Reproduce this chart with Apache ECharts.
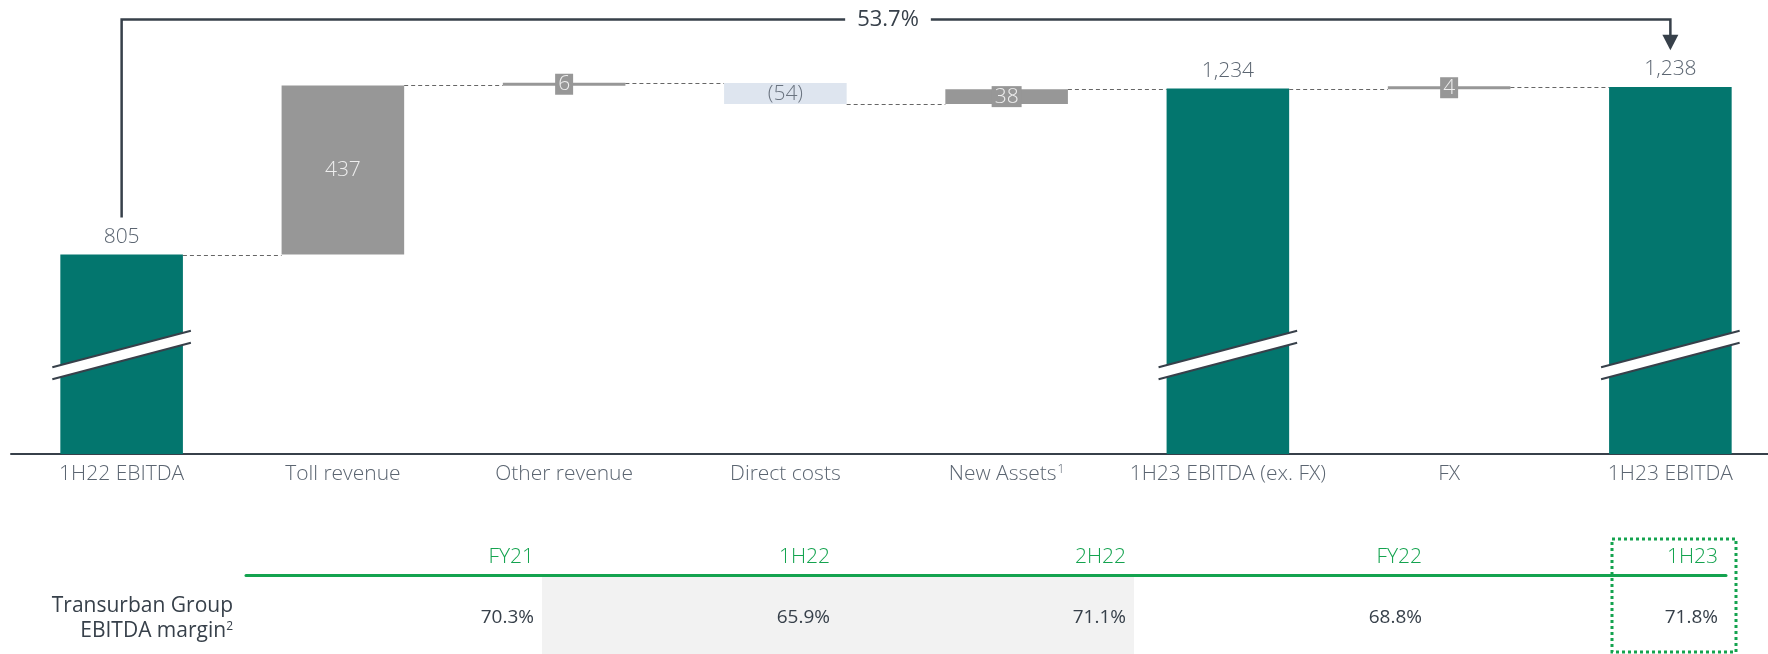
<!DOCTYPE html>
<html>
<head>
<meta charset="utf-8">
<script src="https://cdn.jsdelivr.net/npm/echarts@6/dist/echarts.min.js"></script>
<style>
  html, body { margin: 0; padding: 0; background: #fff; }
  #chart { width: 1768px; height: 654px; }
</style>
</head>
<body>
<div id="chart"></div>
<script>
// waterfall data
const categories = ['1H22 EBITDA', 'Toll revenue', 'Other revenue', 'Direct costs', 'New Assets', '1H23 EBITDA (ex. FX)', 'FX', '1H23 EBITDA']
const footnotes = ['', '', '', '', '1', '', '', '']
const values = [805, 437, 6, -54, 38, 1234, 4, 1238]
const kinds = ['total', 'delta', 'delta', 'delta', 'delta', 'total', 'delta', 'total']
const growthLabel = '53.7%'
const growthFrom = 0
const growthTo = 7

// margin table
const marginPeriods = ['FY21', '1H22', '2H22', 'FY22', '1H23']
const marginValues = [70.3, 65.9, 71.1, 68.8, 71.8]
const shadedPeriods = ['1H22', '2H22']
const highlightPeriod = '1H23'
const rowLabel = ['Transurban Group', 'EBITDA margin{sup|2}']

const FONT = "'Open Sans', 'Noto Sans', sans-serif"
const TEAL = '#03766e'
const GREY = '#979797'
const PALE = '#dee5ef'
const INK = '#37404a'
const MUTED = '#5b6571'
const GREEN = '#14a34f'

let running = 0
const steps = values.map((v, i) => {
  if (kinds[i] === 'total') {
    running = v
    return [i, 0, v, v, v, 1]
  }
  const start = running
  running += v
  return [i, Math.min(start, running), Math.max(start, running), v, running, 0]
})

function fmt(v) {
  return v < 0 ? '(' + Math.abs(v) + ')' : v.toLocaleString('en-US')
}

function renderStep(params, api) {
  const i = api.value(0)
  const lo = api.value(1)
  const hi = api.value(2)
  const v = api.value(3)
  const end = api.value(4)
  const isTotal = api.value(5) === 1
  const cs = params.coordSys
  const bottom = cs.y + cs.height
  const bandW = api.size([1, 0])[0]
  const barW = bandW * 0.554
  const cx = api.coord([i, hi])[0]
  let yHi = api.coord([i, hi])[1]
  let yLo = Math.min(api.coord([i, lo])[1], bottom)
  if (yLo - yHi < 3) {
    const mid = (yLo + yHi) / 2
    yHi = mid - 1.5
    yLo = mid + 1.5
  }
  const fill = isTotal ? TEAL : (v < 0 ? PALE : GREY)
  const children = [{
    type: 'rect',
    shape: { x: cx - barW / 2, y: yHi, width: barW, height: yLo - yHi },
    style: { fill }
  }]

  // connector to next column
  if (i < values.length - 1) {
    const y = Math.round(api.coord([i, end])[1]) + 0.5
    children.push({
      type: 'line',
      shape: { x1: cx + barW / 2, y1: y, x2: cx + bandW - barW / 2, y2: y },
      style: { stroke: '#666', lineWidth: 1, lineDash: [4, 3] }
    })
  }

  // axis break on totals
  if (isTotal) {
    const y0 = bottom - 99
    const half = barW / 2 + 8
    const rise = 18.3
    children.push({
      type: 'polygon',
      shape: { points: [[cx - half, y0 - 6 + rise], [cx + half, y0 - 6 - rise], [cx + half, y0 + 6 - rise], [cx - half, y0 + 6 + rise]] },
      style: { fill: '#fff' }
    })
    ;[-6, 6].forEach((d) => {
      children.push({
        type: 'line',
        shape: { x1: cx - half, y1: y0 + d + rise, x2: cx + half, y2: y0 + d - rise },
        style: { stroke: INK, lineWidth: 2 }
      })
    })
    children.push({
      type: 'text',
      style: { text: fmt(v), x: cx, y: yHi - 7, align: 'center', verticalAlign: 'bottom', fill: MUTED, font: '300 21px ' + FONT }
    })
  } else {
    const small = v > 0 && yLo - yHi < 24
    children.push({
      type: 'text',
      z2: 10,
      style: {
        text: fmt(v), x: cx, y: (yHi + yLo) / 2, align: 'center', verticalAlign: 'middle',
        fill: v < 0 ? '#6b7480' : '#eeeeee', font: '300 21px ' + FONT,
        backgroundColor: small ? GREY : null, padding: small ? [0, 3, 0, 3] : 0
      }
    })
  }
  return { type: 'group', children }
}

function renderGrowth(params, api) {
  const cs = params.coordSys
  const a = api.coord([api.value(0), api.value(2)])
  const b = api.coord([api.value(1), api.value(3)])
  const yTop = cs.y + 18.5
  const yL = a[1] - 37
  const tip = b[1] - 36.6
  return {
    type: 'group',
    children: [{
      type: 'polyline',
      shape: { points: [[a[0], yL], [a[0], yTop], [b[0], yTop], [b[0], tip - 14]] },
      style: { stroke: INK, lineWidth: 2.5, fill: null }
    }, {
      type: 'polygon',
      shape: { points: [[b[0] - 8, tip - 15.5], [b[0] + 8, tip - 15.5], [b[0], tip]] },
      style: { fill: INK }
    }, {
      type: 'text',
      style: {
        text: growthLabel, x: (a[0] + b[0]) / 2 - 8, y: yTop, align: 'center', verticalAlign: 'middle',
        fill: INK, font: '22px ' + FONT, backgroundColor: '#fff', padding: [2, 12, 2, 12]
      }
    }]
  }
}

function renderMargin(params, api) {
  const i = api.value(0)
  const cs = params.coordSys
  const bandW = api.size([1, 0])[0]
  const cx = api.coord([i, 0])[0]
  const right = cx + bandW / 2 - 8
  const children = []
  if (api.value(2) === 1) {
    children.push({
      type: 'rect',
      shape: { x: cx - bandW / 2, y: cs.y + 2, width: bandW, height: cs.height },
      style: { fill: '#f2f2f2' }
    })
  }
  children.push({
    type: 'text',
    style: { text: marginPeriods[i], x: right, y: cs.y - 18, align: 'right', verticalAlign: 'middle', fill: GREEN, font: '300 21px ' + FONT }
  }, {
    type: 'text',
    style: { text: api.value(1).toFixed(1) + '%', x: right, y: cs.y + 43, align: 'right', verticalAlign: 'middle', fill: INK, font: '19px ' + FONT }
  })
  if (api.value(3) === 1) {
    children.push({
      type: 'rect',
      shape: { x: right - 106, y: cs.y - 36, width: 124, height: cs.height + 34 },
      style: { fill: null, stroke: GREEN, lineWidth: 3, lineDash: [3, 3] }
    })
  }
  return { type: 'group', children }
}

const chart = echarts.init(document.getElementById('chart'))
chart.setOption({
  animation: false,
  grid: [
    { left: 11, top: 1, width: 1770, height: 453, outerBoundsMode: 'none' },
    { left: 246, top: 575, width: 1480, height: 79, outerBoundsMode: 'none' }
  ],
  xAxis: [{
    type: 'category',
    data: categories,
    axisTick: { show: false },
    axisLine: { lineStyle: { color: INK, width: 2 } },
    axisLabel: {
      interval: 0,
      hideOverlap: false,
      color: MUTED, fontSize: 21, fontWeight: 300, fontFamily: FONT, margin: 10,
      formatter: (val, idx) => footnotes[idx] ? val + '{sup|' + footnotes[idx] + '}' : val,
      rich: { sup: { fontSize: 12, color: MUTED, fontFamily: FONT, verticalAlign: 'top', padding: [0, 0, 8, 1] } }
    }
  }, {
    type: 'category',
    gridIndex: 1,
    position: 'top',
    data: marginPeriods,
    axisTick: { show: false },
    axisLabel: { show: false },
    axisLine: { onZero: false, lineStyle: { color: GREEN, width: 3 } }
  }],
  yAxis: [
    { type: 'value', min: 290, max: 1460, show: false, splitLine: { show: false } },
    { type: 'value', gridIndex: 1, min: 0, max: 1, show: false, splitLine: { show: false } }
  ],
  graphic: rowLabel.map((line, k) => ({
    type: 'text',
    x: 233,
    y: 606 + k * 25,
    style: Object.assign({
      text: line,
      align: 'right', verticalAlign: 'middle', fill: INK, font: '21px ' + FONT
    }, line.includes('{') ? {
      rich: { sup: { fontSize: 12, fontFamily: FONT, fill: INK, verticalAlign: 'top', padding: [0, 0, 8, 0] } }
    } : {})
  })),
  series: [{
    type: 'custom',
    renderItem: renderStep,
    encode: { x: 0, y: [1, 2] },
    data: steps
  }, {
    type: 'custom',
    renderItem: renderGrowth,
    encode: { x: [0, 1], y: [2, 3] },
    data: [[growthFrom, growthTo, values[growthFrom], values[growthTo]]],
    z: 5
  }, {
    type: 'custom',
    xAxisIndex: 1,
    yAxisIndex: 1,
    renderItem: renderMargin,
    data: marginPeriods.map((p, i) => [i, marginValues[i], shadedPeriods.includes(p) ? 1 : 0, p === highlightPeriod ? 1 : 0])
  }]
})
</script>
</body>
</html>
